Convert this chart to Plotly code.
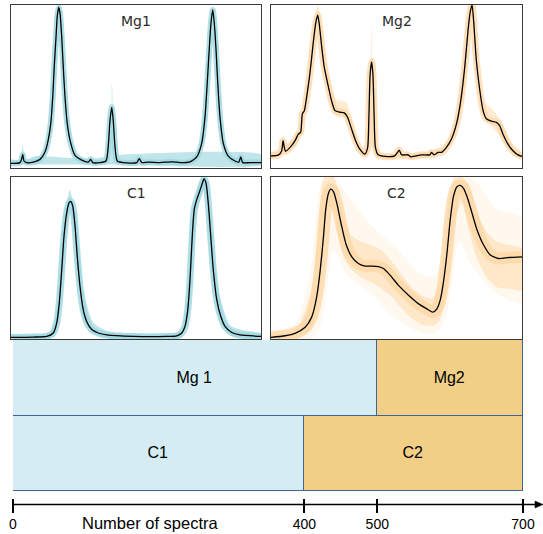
import plotly.graph_objects as go

# ---------------- spectra data (x: 0-100 % of window, y: normalised intensity) ----------------
mg1_x = [0, 3.6, 4.3, 4.7, 5.2, 6.3, 8.9, 11.6, 13.6, 14.9, 15.9, 16.7, 17.3, 18.0, 18.5, 19.1, 19.6, 20.3, 20.9, 21.6,
         22.5, 23.9, 25.6, 28.3, 30.9, 31.9, 32.7, 35.6, 38.0, 38.9, 39.6, 40.3, 40.9, 41.6, 42.5, 44.9, 50.3, 51.3, 52.3, 54.9,
         59.6, 64.3, 67.6, 71.6, 74.3, 76.3, 77.6, 78.5, 79.3, 80.0, 80.7, 81.3, 82.0, 82.7, 83.6, 84.9, 86.9, 89.6, 91.1, 91.9,
         92.7, 95.6, 100]
mg1_y = [.025, .03, .055, .08, .04, .03, .033, .05, .095, .17, .27, .435, .62, .80, .93, .985, .95, .80, .62, .435,
         .27, .15, .075, .045, .033, .05, .03, .03, .04, .13, .29, .37, .29, .13, .04, .03, .03, .055, .03, .033,
         .03, .035, .03, .035, .065, .15, .31, .52, .73, .89, .97, .89, .73, .52, .31, .15, .07, .04, .033, .065,
         .03, .03, .03]
mg1_band_x = [0, 3.8, 4.7, 5.6, 10, 38.4, 40.3, 42.2, 45, 100]
mg1_band_hi = [.05, .05, .14, .05, .07, .075, .52, .075, .08, .08]
mg1_band_lo = [.018, .018, .018, .018, .018, .018, .018, .018, .018, .018]

mg2_x = [0, 2.9, 4.2, 4.8, 5.3, 5.8, 7.6, 9.6, 10.9, 11.8, 12.5, 13.3, 14.2, 15.5, 16.8, 17.8, 18.6, 19.2, 20.2, 21.2,
         22.6, 24.1, 25.5, 27.5, 29.2, 30.5, 32.1, 33.7, 35.4, 37.4, 38.5, 39.0, 39.5, 40.1, 40.6, 41.1, 41.6, 42.7, 45.4, 49.3,
         51.1, 52.0, 54.6, 55.7, 60.0, 63.3, 63.9, 65.0, 66.6, 67.9, 69.9, 71.9, 73.9, 75.6, 77.2, 78.5, 79.4, 80.1, 80.8, 81.8,
         83.2, 84.5, 85.8, 87.8, 89.8, 91.1, 92.4, 94.4, 96.4, 98.4, 100]
mg2_y = [.072, .076, .10, .165, .124, .10, .124, .165, .206, .216, .33, .35, .433, .577, .763, .887, .938, .887, .742, .619,
         .515, .412, .35, .34, .336, .309, .237, .165, .113, .082, .124, .309, .577, .65, .577, .309, .124, .078, .068, .072,
         .107, .078, .078, .066, .078, .078, .093, .078, .093, .093, .124, .175, .268, .412, .619, .845, .96, 1.0, .887, .66,
         .474, .35, .30, .285, .278, .258, .206, .144, .103, .078, .068]
mg2_band_x = [0, 10, 14, 18.6, 23, 26, 30, 34, 36, 38.5, 40.0, 41.5, 44, 60, 70, 76, 80.1, 84, 88, 92, 96, 100]
mg2_band_hi = [.09, .19, .48, 1.0, .58, .42, .40, .20, .11, .14, .87, .15, .09, .09, .15, .44, 1.0, .42, .36, .28, .15, .09]
mg2_band_lo = [.055, .13, .41, .90, .46, .31, .30, .13, .07, .07, .60, .07, .055, .055, .11, .36, .95, .33, .25, .18, .09, .055]

c1_x = [0, 8.9, 14.3, 16.9, 18.3, 19.3, 20.3, 21.2, 22.3, 23.2, 23.9, 24.7, 25.6, 26.5, 27.6, 28.9, 30.5, 32.3, 34.9, 38.3,
        48.9, 62.3, 66.3, 68.3, 69.6, 70.7, 71.6, 72.5, 73.3, 74.3, 75.2, 76.3, 77.2, 78.0, 78.9, 79.9, 80.9, 82.3, 83.9, 85.6,
        88.3, 91.6, 100]
c1_y = [.01, .012, .016, .037, .10, .22, .43, .634, .78, .84, .85, .82, .70, .51, .325, .18, .10, .058, .037, .025,
        .016, .016, .02, .037, .078, .18, .366, .634, .80, .86, .90, .95, .988, .963, .84, .634, .43, .243, .14, .078,
        .04, .025, .016]
c1_band_x = [0, 15, 18, 21, 23.5, 26, 29, 33, 40, 60, 68, 71, 74, 77.2, 80, 83, 88, 100]
c1_band_hi = [.03, .04, .15, .70, .92, .75, .30, .10, .04, .03, .05, .35, .90, 1.0, .75, .30, .08, .03]
c1_band_lo = [0, 0, .05, .45, .80, .60, .12, .03, 0, 0, .01, .15, .75, .93, .55, .15, .02, 0]

c2_x = [0, 5.6, 9.6, 13.6, 16.2, 18.2, 19.6, 20.9, 21.8, 22.9, 23.8, 24.9, 26.2, 27.9, 29.8, 32.2, 34.8, 37.5, 40.2, 42.8,
        44.8, 47.5, 50.8, 54.8, 58.8, 62.1, 64.5, 66.1, 67.4, 68.8, 70.1, 71.4, 72.7, 74.1, 75.4, 76.7, 78.3, 80.1, 82.1, 84.7,
        87.4, 90.7, 94.7, 100]
c2_y = [.01, .02, .035, .072, .135, .26, .424, .63, .80, .90, .925, .91, .84, .714, .59, .507, .466, .45, .45, .447,
        .435, .393, .331, .27, .217, .186, .166, .186, .238, .362, .528, .735, .88, .94, .948, .93, .87, .776, .673, .58,
        .518, .497, .503, .507]
c2_band_x = [0, 10, 16, 19, 21, 23, 25, 27, 29, 32, 36, 40, 44, 48, 52, 56, 60, 64, 67, 69, 71, 73, 76, 79, 82, 86, 90, 95, 100]
c2_band_hi = [.03, .06, .30, .75, 1.0, 1.0, 1.0, .90, .76, .64, .60, .58, .55, .48, .40, .32, .27, .25, .33, .55, .85, 1.0, 1.0, .95, .78, .66, .60, .58, .56]
c2_band_lo = [0, .01, .06, .22, .55, .82, .78, .62, .50, .43, .38, .35, .31, .26, .19, .13, .09, .08, .11, .22, .42, .72, .84, .66, .50, .38, .32, .31, .30]
c2_cloud_x = [0, 10, 16, 20, 25, 30, 40, 50, 60, 66, 70, 75, 80, 90, 100]
c2_cloud_hi = [.04, .10, .45, .95, 1.0, .90, .70, .56, .40, .40, .85, 1.0, 1.0, .80, .75]
c2_cloud_lo = [0, 0, 0, .10, .55, .40, .28, .12, .04, .04, .15, .60, .45, .28, .22]

panel_titles = ["Mg1", "Mg2", "C1", "C2"]

# ---------------- bar data ----------------
bar_rows = ["Mg", "C"]
group1_labels = ["Mg 1", "C1"]
group1_counts = [500, 400]
group2_labels = ["Mg2", "C2"]
group2_counts = [200, 300]
tick_values = [0, 400, 500, 700]
tick_labels = ["0", "400", "500", "700"]
axis_label = "Number of spectra"

W, H = 543, 534
BLUE_BAND = "rgba(150,212,220,0.6)"
BLUE_THICK = "rgba(160,216,224,0.85)"
ORANGE_BAND = "rgba(255,215,165,0.5)"
ORANGE_THICK = "rgba(254,214,162,0.72)"


def px(x):
    return x / W


def py(y):
    return 1 - y / H


fig = go.Figure()

panels = [
    ("x", "y", mg1_x, mg1_y, mg1_band_x, mg1_band_lo, mg1_band_hi, BLUE_BAND, BLUE_THICK, 6),
    ("x2", "y2", mg2_x, mg2_y, mg2_band_x, mg2_band_lo, mg2_band_hi, ORANGE_BAND, ORANGE_THICK, 7),
    ("x3", "y3", c1_x, c1_y, c1_band_x, c1_band_lo, c1_band_hi, BLUE_BAND, BLUE_THICK, 7),
    ("x4", "y4", c2_x, c2_y, c2_band_x, c2_band_lo, c2_band_hi, ORANGE_BAND, ORANGE_THICK, 12),
]

for xa, ya, xs, ys, bx, blo, bhi, bcol, tcol, tw in panels:
    if xa == "x4":
        fig.add_trace(go.Scatter(x=c2_cloud_x + c2_cloud_x[::-1], y=c2_cloud_hi + c2_cloud_lo[::-1],
                                 fill="toself", fillcolor="rgba(255,222,180,0.22)",
                                 line=dict(width=0, shape="spline", smoothing=0.6),
                                 mode="lines", xaxis=xa, yaxis=ya, hoverinfo="skip", showlegend=False))
    fig.add_trace(go.Scatter(x=bx + bx[::-1], y=bhi + blo[::-1], fill="toself", fillcolor=bcol,
                             line=dict(width=0, shape="spline", smoothing=0.6), mode="lines",
                             xaxis=xa, yaxis=ya, hoverinfo="skip", showlegend=False))
    fig.add_trace(go.Scatter(x=xs, y=ys, mode="lines", line=dict(color=tcol, width=tw, shape="spline", smoothing=0.6),
                             xaxis=xa, yaxis=ya, hoverinfo="skip", showlegend=False))
    fig.add_trace(go.Scatter(x=xs, y=ys, mode="lines", line=dict(color="black", width=1.3, shape="spline", smoothing=0.6),
                             xaxis=xa, yaxis=ya, showlegend=False))

# bars
fig.add_trace(go.Bar(y=bar_rows, x=group1_counts, orientation="h", text=group1_labels,
                     marker=dict(color="#d5edf2", line=dict(color="#41639a", width=1.5)),
                     textposition="inside", insidetextanchor="middle",
                     textfont=dict(family="Liberation Sans", size=16, color="black"),
                     xaxis="x5", yaxis="y5", showlegend=False))
fig.add_trace(go.Bar(y=bar_rows, x=group2_counts, orientation="h", text=group2_labels,
                     marker=dict(color="#f2cf87", line=dict(color="#41639a", width=1.5)),
                     textposition="inside", insidetextanchor="middle",
                     textfont=dict(family="Liberation Sans", size=16, color="black"),
                     xaxis="x5", yaxis="y5", showlegend=False))

panel_ax = dict(showticklabels=False, ticks="", showgrid=False, zeroline=False, showline=True, mirror=True,
                linecolor="#3a3a3a", linewidth=1)

xd_left = [px(11), px(261)]
xd_right = [px(271), px(522)]
yd_top = [py(167.5), py(5)]
yd_mid = [py(339), py(177)]

fig.update_layout(
    width=W, height=H, margin=dict(l=0, r=0, t=0, b=0, autoexpand=False),
    paper_bgcolor="white", plot_bgcolor="white",
    barmode="stack", bargap=0,
    xaxis=dict(domain=xd_left, range=[0, 100], anchor="y", **panel_ax),
    yaxis=dict(domain=yd_top, range=[0, 1], anchor="x", **panel_ax),
    xaxis2=dict(domain=xd_right, range=[0, 100], anchor="y2", **panel_ax),
    yaxis2=dict(domain=yd_top, range=[0, 1], anchor="x2", **panel_ax),
    xaxis3=dict(domain=xd_left, range=[0, 100], anchor="y3", **panel_ax),
    yaxis3=dict(domain=yd_mid, range=[0, 1], anchor="x3", **panel_ax),
    xaxis4=dict(domain=xd_right, range=[0, 100], anchor="y4", **panel_ax),
    yaxis4=dict(domain=yd_mid, range=[0, 1], anchor="x4", **panel_ax),
    xaxis5=dict(domain=[px(13), px(523)], range=[0, 700], anchor="free", position=py(497.5),
                showline=False, showgrid=False, zeroline=False,
                ticks="outside", ticklen=14, tickwidth=1.5, tickcolor="black",
                tickvals=tick_values, ticktext=tick_labels,
                tickfont=dict(family="Liberation Sans", size=14, color="black")),
    yaxis5=dict(domain=[py(491), py(340)], range=[-0.5, 1.5], anchor="x5", type="category",
                categoryorder="array", categoryarray=bar_rows[::-1],
                showticklabels=False, ticks="", showgrid=False, zeroline=False, showline=False),
    font=dict(family="Liberation Sans"),
)

titles_ref = [("x domain", "y domain"), ("x2 domain", "y2 domain"), ("x3 domain", "y3 domain"), ("x4 domain", "y4 domain")]
for (xr, yr), t in zip(titles_ref, panel_titles):
    fig.add_annotation(xref=xr, yref=yr, x=0.5, y=1 - 16 / 162, text=t, showarrow=False,
                       font=dict(family="DejaVu Sans", size=14, color="#2b2b2b"), xanchor="center", yanchor="middle")

# axis line with arrow (shapes: do not push margins)
ay_px = 504.5
fig.add_shape(type="line", xref="paper", yref="paper", x0=px(13), x1=px(537), y0=py(ay_px), y1=py(ay_px),
              line=dict(color="black", width=1.5))
fig.add_shape(type="path", xref="paper", yref="paper",
              path=f"M {px(543)} {py(ay_px)} L {px(535)} {py(ay_px - 3.5)} L {px(535)} {py(ay_px + 3.5)} Z",
              fillcolor="black", line=dict(color="black", width=0.5))
fig.add_annotation(xref="paper", yref="paper", x=px(150), y=py(523), text=axis_label, showarrow=False,
                   font=dict(family="Liberation Sans", size=16.5, color="black"), xanchor="center", yanchor="middle")

fig.write_html("out.html")
